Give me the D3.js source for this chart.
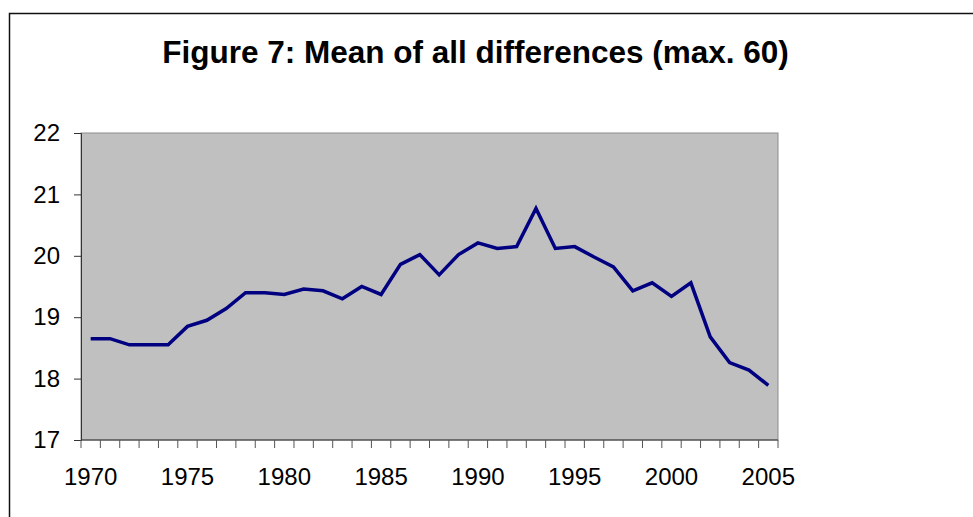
<!DOCTYPE html>
<html>
<head>
<meta charset="utf-8">
<script src="https://cdn.jsdelivr.net/npm/d3@7"></script>
<style>
  body { margin: 0; background: #fff; }
  text { font-family: "Liberation Sans", Arial, sans-serif; }
</style>
</head>
<body>
<svg width="973" height="517"></svg>
<script>
// data
const years = d3.range(1970, 2006)
const values = [18.65, 18.65, 18.55, 18.55, 18.55, 18.85, 18.95, 19.14, 19.40, 19.40,
  19.37, 19.46, 19.43, 19.30, 19.50, 19.37, 19.86, 20.02, 19.69, 20.02,
  20.21, 20.12, 20.15, 20.77, 20.12, 20.15, 19.98, 19.82, 19.43, 19.56,
  19.34, 19.56, 18.68, 18.26, 18.14, 17.89]
const yTicks = [17, 18, 19, 20, 21, 22]
const xLabels = [1970, 1975, 1980, 1985, 1990, 1995, 2000, 2005]
const title = 'Figure 7: Mean of all differences (max. 60)'

const svg = d3.select('svg')
const plot = {left: 81, right: 778, top: 133, bottom: 440}

// chart area border (runs off the right and bottom edges)
svg.append('path')
  .attr('d', `M9.5,530 V13.5 H990`)
  .attr('fill', 'none')
  .attr('stroke', '#111')
  .attr('stroke-width', 1.5)

svg.append('text')
  .attr('x', 475.5)
  .attr('y', 63)
  .attr('text-anchor', 'middle')
  .attr('font-size', 31.5)
  .attr('font-weight', 'bold')
  .text(title)

const x = d3.scaleBand()
  .domain(years)
  .range([plot.left, plot.right])
  .paddingInner(0).paddingOuter(0)
const y = d3.scaleLinear()
  .domain([17, 22])
  .range([plot.bottom, plot.top])

svg.append('rect')
  .attr('x', plot.left).attr('y', plot.top)
  .attr('width', plot.right - plot.left)
  .attr('height', plot.bottom - plot.top)
  .attr('fill', '#c0c0c0')
  .attr('stroke', '#8c8c8c')
  .attr('stroke-width', 1)

// y axis
const yAxis = svg.append('g')
  .attr('transform', `translate(${plot.left},0)`)
  .call(d3.axisLeft(y).tickValues(yTicks).tickSize(7).tickPadding(14).tickFormat(d3.format('d')))
yAxis.select('.domain').attr('stroke', '#333')
yAxis.selectAll('.tick line').attr('stroke', '#333')
yAxis.selectAll('text').attr('font-size', 24).attr('fill', '#000')
  .attr('font-family', '"Liberation Sans", Arial, sans-serif')

// x axis: ticks between categories, labels every fifth year
const xAxis = svg.append('g')
  .attr('transform', `translate(0,${plot.bottom})`)
xAxis.append('line')
  .attr('x1', plot.left).attr('x2', plot.right)
  .attr('stroke', '#333')
xAxis.selectAll('.tk')
  .data(years.concat([2006]))
  .enter()
  .append('line')
  .attr('class', 'tk')
  .attr('x1', (d) => d === 2006 ? plot.right : x(d))
  .attr('x2', (d) => d === 2006 ? plot.right : x(d))
  .attr('y1', 0).attr('y2', 8)
  .attr('stroke', '#555')
xAxis.selectAll('.lbl')
  .data(xLabels)
  .enter()
  .append('text')
  .attr('class', 'lbl')
  .attr('x', (d) => x(d) + x.bandwidth() / 2)
  .attr('y', 45)
  .attr('text-anchor', 'middle')
  .attr('font-size', 24)
  .text((d) => d)

const line = d3.line()
  .x((d, i) => x(years[i]) + x.bandwidth() / 2)
  .y((d) => y(d))

svg.append('path')
  .datum(values)
  .attr('fill', 'none')
  .attr('stroke', '#000080')
  .attr('stroke-width', 3.5)
  .attr('stroke-linejoin', 'miter')
  .attr('d', line)
</script>
</body>
</html>
